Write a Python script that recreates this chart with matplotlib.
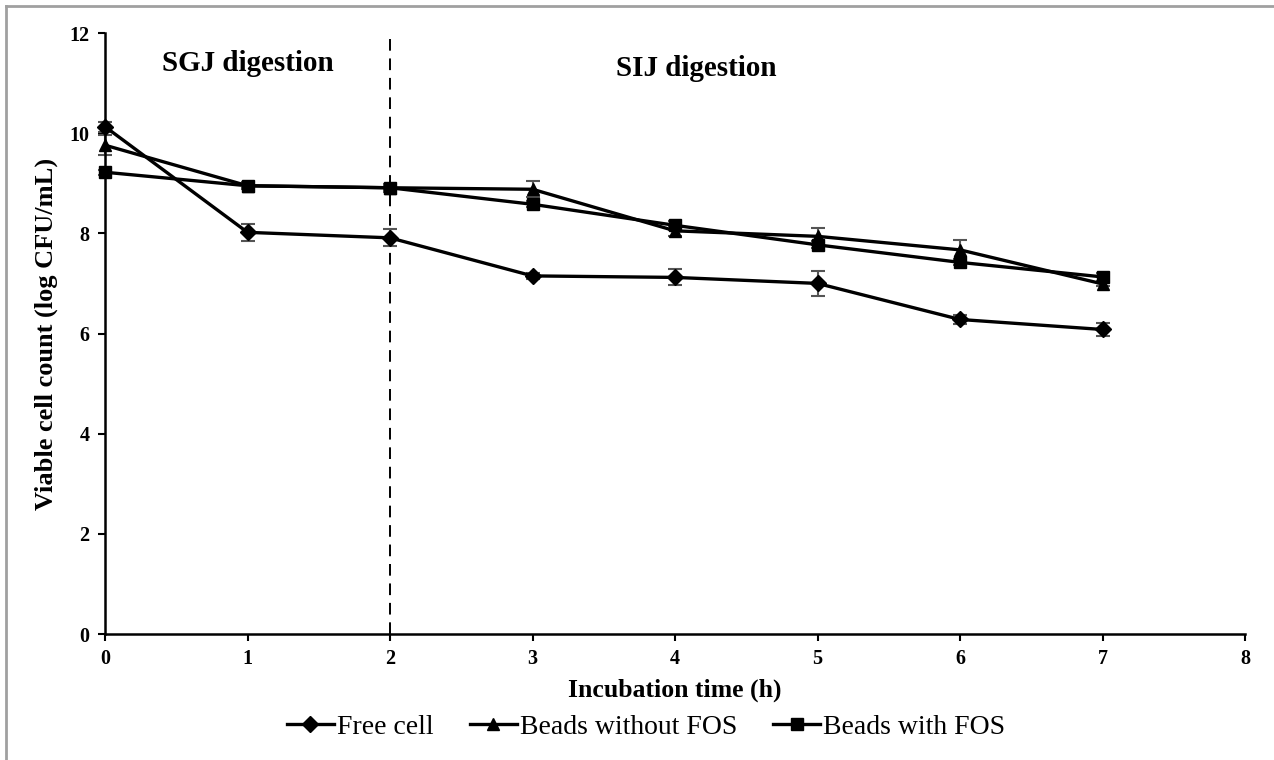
import matplotlib.pyplot as plt
from matplotlib.lines import Line2D

plt.rcParams["font.family"] = ["Liberation Serif", "DejaVu Serif"]

# incubation time (h)
hours = [0, 1, 2, 3, 4, 5, 6, 7]

# viable counts, log CFU/mL
free_cell = [10.13, 8.02, 7.91, 7.15, 7.12, 7.00, 6.28, 6.08]
free_cell_err = [0.10, 0.17, 0.17, 0.06, 0.16, 0.25, 0.09, 0.12]

beads_no_fos = [9.76, 8.95, 8.91, 8.88, 8.05, 7.94, 7.67, 6.99]
beads_no_fos_err = [0.20, 0.05, 0.05, 0.16, 0.10, 0.17, 0.19, 0.05]

beads_fos = [9.22, 8.95, 8.91, 8.58, 8.16, 7.77, 7.42, 7.13]
beads_fos_err = [0.05, 0.07, 0.08, 0.06, 0.09, 0.07, 0.06, 0.08]

series = [
    ("Free cell", free_cell, free_cell_err, "D", 8.5),
    ("Beads without FOS", beads_no_fos, beads_no_fos_err, "^", 8.5),
    ("Beads with FOS", beads_fos, beads_fos_err, "s", 8),
]

fig = plt.figure(figsize=(12.74, 7.6), dpi=100)
ax = fig.add_axes([105 / 1274, 1 - 634 / 760, 1140 / 1274, 601 / 760])

handles = []
for label, vals, err, mk, ms in series:
    ax.errorbar(hours, vals, yerr=err, fmt="none", ecolor="#555555",
                elinewidth=1.5, capsize=5, capthick=1.5, zorder=2, clip_on=False)
    ax.plot(hours, vals, color="black", lw=2.4, marker=mk, ms=ms,
            mfc="black", mec="black", zorder=3, clip_on=False)
    handles.append(Line2D([], [], color="black", lw=2.4, marker=mk, ms=ms))

ax.axvline(2, color="black", lw=1.4, ls=(0, (6, 4)), zorder=1)

ax.text(1.0, 11.40, "SGJ digestion", ha="center", va="center",
        fontsize=21, fontweight="bold")
ax.text(4.15, 11.30, "SIJ digestion", ha="center", va="center",
        fontsize=21, fontweight="bold")

ax.set_xlim(0, 8)
ax.set_ylim(0, 12)
ax.set_xticks(range(0, 9))
ax.set_yticks(range(0, 13, 2))
ax.spines["top"].set_visible(False)
ax.spines["right"].set_visible(False)
for s in ("left", "bottom"):
    ax.spines[s].set_linewidth(1.8)
ax.tick_params(direction="out", length=5, width=1.5, labelsize=14.5, pad=6)
for t in ax.get_xticklabels() + ax.get_yticklabels():
    t.set_fontweight("bold")

ax.set_xlabel("Incubation time (h)", fontsize=18.5, fontweight="bold", labelpad=7)
ax.set_ylabel("Viable cell count (log CFU/mL)", fontsize=19, fontweight="bold",
              labelpad=8)

fig.legend(handles, [s[0] for s in series], loc="center",
           bbox_to_anchor=(646 / 1274, 1 - 727 / 760), ncol=3, frameon=False,
           fontsize=20, handlelength=1.7, handletextpad=0.1, columnspacing=1.3)

# partial outer border (left and top edges visible in the source)
fig.add_artist(Line2D([6 / 1274, 6 / 1274], [0, 1 - 6 / 760],
                      transform=fig.transFigure, color="#a0a0a0", lw=2))
fig.add_artist(Line2D([6 / 1274, 1], [1 - 6 / 760, 1 - 6 / 760],
                      transform=fig.transFigure, color="#a0a0a0", lw=2))

fig.savefig("out.png", dpi=100)
